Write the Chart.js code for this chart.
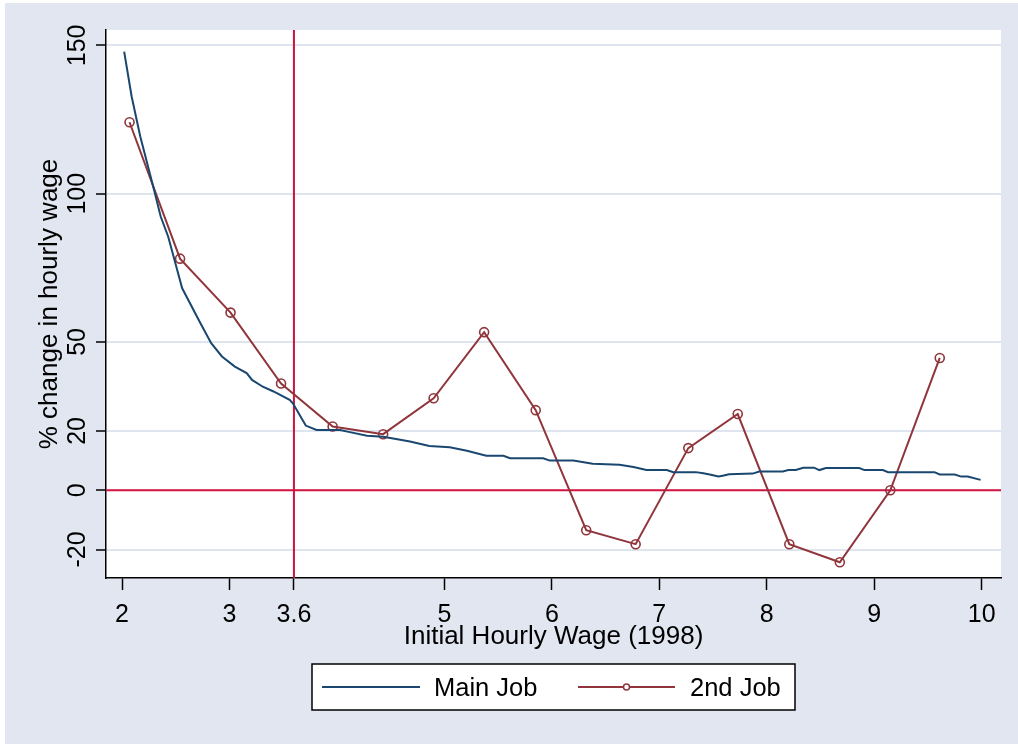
<!DOCTYPE html>
<html>
<head>
<meta charset="utf-8">
<script src="https://cdn.jsdelivr.net/npm/chart.js@4.4.1/dist/chart.umd.min.js"></script>
<style>
  html, body { margin: 0; padding: 0; background: #ffffff; }
  #wrap { width: 1018px; height: 744px; }
</style>
</head>
<body>
<div id="wrap"><canvas id="chart" width="1018" height="744"></canvas></div>
<script>
// Main job: % change in hourly wage by initial hourly wage (1998)
const mainWage = [2.02, 2.09, 2.17, 2.29, 2.36, 2.43, 2.56, 2.73, 2.83, 2.93, 3.05, 3.16, 3.21, 3.31, 3.41, 3.56, 3.59, 3.71, 3.81, 4.03,
  4.12, 4.28, 4.43, 4.55, 4.68, 4.86, 5.05, 5.21, 5.39, 5.55, 5.61, 5.92, 5.98, 6.20, 6.38, 6.63, 6.76, 6.88, 7.07, 7.13,
  7.34, 7.41, 7.48, 7.55, 7.59, 7.65, 7.87, 7.93, 8.15, 8.20, 8.27, 8.34, 8.44, 8.49, 8.55, 8.86, 8.91, 9.08, 9.13, 9.56,
  9.61, 9.75, 9.81, 9.87, 9.99];
const mainChange = [147.9, 132.7, 119.3, 102.4, 92.3, 85.5, 68.1, 56.3, 49.6, 45.1, 41.7, 39.5, 37.2, 34.9, 33.3, 30.5, 29.3, 21.8, 20.3, 20.3,
  19.6, 18.4, 18.0, 17.3, 16.4, 14.9, 14.5, 13.3, 11.6, 11.6, 10.8, 10.8, 10.0, 10.0, 8.9, 8.6, 7.8, 6.8, 6.8, 6.1,
  6.1, 5.7, 5.2, 4.6, 4.9, 5.4, 5.6, 6.3, 6.3, 6.8, 6.8, 7.6, 7.6, 6.8, 7.5, 7.5, 6.8, 6.8, 6.1, 6.1,
  5.3, 5.3, 4.6, 4.6, 3.5];

// Second job: binned averages
const secondWage = [2.07, 2.54, 3.01, 3.48, 3.96, 4.43, 4.90, 5.37, 5.85, 6.32, 6.78, 7.27, 7.73, 8.21, 8.68, 9.15, 9.61];
const secondChange = [124.1, 78.1, 59.9, 36.0, 21.5, 18.9, 31.0, 53.3, 27.0, -13.5, -18.2, 14.2, 25.7, -18.2, -24.3, 0.0, 44.6];

// Axis ticks and reference lines
const xTickValues = [2, 3, 3.6, 5, 6, 7, 8, 9, 10];
const yTickValues = [-20, 0, 20, 50, 100, 150];
const wageCutoff = 3.6;
const zeroChange = 0;

const NAVY = '#1a476f';
const MAROON = '#90353b';
const REFRED = '#cf1240';
const GRID = '#dfe5ef';
const BG = '#e2e6f0';
const FONT = '"Liberation Sans", Arial, Helvetica, sans-serif';

const toPoints = (xs, ys) => xs.map((x, i) => ({ x: x, y: ys[i] }));

// Graph region background and white plot region
const backgroundPlugin = {
  id: 'regions',
  beforeDraw(chart) {
    const { ctx, chartArea: a } = chart;
    ctx.save();
    ctx.fillStyle = '#ffffff';
    ctx.fillRect(0, 0, chart.width, chart.height);
    ctx.fillStyle = BG;
    ctx.fillRect(5, 3, chart.width - 5, chart.height - 3);
    ctx.fillStyle = '#ffffff';
    ctx.fillRect(a.left, a.top, a.right - a.left, a.bottom - a.top);
    ctx.restore();
  }
};

// Reference lines at the wage cutoff and at zero change
const refLinePlugin = {
  id: 'refLines',
  beforeDatasetsDraw(chart) {
    const { ctx, chartArea: a, scales } = chart;
    const px = scales.x.getPixelForValue(wageCutoff);
    const py = scales.y.getPixelForValue(zeroChange);
    ctx.save();
    ctx.strokeStyle = REFRED;
    ctx.lineWidth = 2;
    ctx.beginPath();
    ctx.moveTo(px, a.top);
    ctx.lineTo(px, a.bottom);
    ctx.moveTo(a.left, py);
    ctx.lineTo(a.right, py);
    ctx.stroke();
    ctx.restore();
  }
};

// Boxed legend below the axis title
const boxLegendPlugin = {
  id: 'boxLegend',
  afterDraw(chart) {
    const { ctx } = chart;
    const ds = chart.data.datasets;
    const box = { x: 312, y: 664, w: 483, h: 46 };
    const cy = box.y + box.h / 2;
    ctx.save();
    ctx.fillStyle = '#ffffff';
    ctx.fillRect(box.x, box.y, box.w, box.h);
    ctx.strokeStyle = '#000000';
    ctx.lineWidth = 1.5;
    ctx.strokeRect(box.x, box.y, box.w, box.h);

    const items = [
      { ds: ds[0], x0: 322, x1: 420, tx: 434 },
      { ds: ds[1], x0: 578, x1: 675, tx: 690 }
    ];
    items.forEach(it => {
      ctx.strokeStyle = it.ds.borderColor;
      ctx.lineWidth = 2;
      ctx.beginPath();
      ctx.moveTo(it.x0, cy);
      ctx.lineTo(it.x1, cy);
      ctx.stroke();
      if (it.ds.pointRadius > 0) {
        ctx.beginPath();
        ctx.arc((it.x0 + it.x1) / 2, cy, 3, 0, Math.PI * 2);
        ctx.fillStyle = '#ffffff';
        ctx.fill();
        ctx.lineWidth = 1.5;
        ctx.strokeStyle = it.ds.pointBorderColor;
        ctx.stroke();
      }
      ctx.fillStyle = '#000000';
      ctx.font = '25.5px ' + FONT;
      ctx.textAlign = 'left';
      ctx.textBaseline = 'middle';
      ctx.fillText(it.ds.label, it.tx, cy + 2);
    });
    ctx.restore();
  }
};

new Chart(document.getElementById('chart'), {
  type: 'line',
  data: {
    datasets: [
      {
        label: 'Main Job',
        data: toPoints(mainWage, mainChange),
        borderColor: NAVY,
        borderWidth: 2,
        pointRadius: 0,
        tension: 0,
        fill: false
      },
      {
        label: '2nd Job',
        data: toPoints(secondWage, secondChange),
        borderColor: MAROON,
        borderWidth: 2,
        pointRadius: 4.5,
        pointStyle: 'circle',
        pointBackgroundColor: 'rgba(255,255,255,0)',
        pointBorderColor: MAROON,
        pointBorderWidth: 1.6,
        tension: 0,
        fill: false
      }
    ]
  },
  options: {
    responsive: false,
    devicePixelRatio: 1,
    animation: false,
    layout: { padding: { top: 30, right: 17, bottom: 0, left: 0 } },
    plugins: {
      legend: { display: false },
      tooltip: { enabled: false }
    },
    scales: {
      x: {
        type: 'linear',
        min: 1.851,
        max: 10.18,
        afterFit(scale) { scale.height = 166; },
        afterBuildTicks(scale) { scale.ticks = xTickValues.map(v => ({ value: v })); },
        border: { display: true, color: '#000000', width: 1.5 },
        grid: {
          drawOnChartArea: false,
          drawTicks: true,
          tickLength: 12,
          tickColor: '#000000',
          tickWidth: 1.5
        },
        ticks: {
          color: '#000000',
          font: { family: FONT, size: 25 },
          padding: 10,
          maxRotation: 0,
          minRotation: 0,
          autoSkip: false,
          callback: v => String(v)
        },
        title: {
          display: true,
          text: 'Initial Hourly Wage (1998)',
          color: '#000000',
          font: { family: FONT, size: 26 },
          padding: { top: 0, bottom: 92 }
        }
      },
      y: {
        type: 'linear',
        min: -29.6,
        max: 155.2,
        afterFit(scale) { scale.width = 106; },
        afterBuildTicks(scale) { scale.ticks = yTickValues.map(v => ({ value: v })); },
        border: { display: true, color: '#000000', width: 1.5 },
        grid: {
          drawOnChartArea: true,
          drawTicks: true,
          tickLength: 10,
          tickColor: '#000000',
          tickWidth: 1.5,
          lineWidth: 2,
          color: ctx => (ctx.tick && ctx.tick.value === 0) ? 'rgba(0,0,0,0)' : GRID
        },
        ticks: {
          color: '#000000',
          font: { family: FONT, size: 25 },
          padding: -3,
          minRotation: 90,
          maxRotation: 90,
          crossAlign: 'center',
          autoSkip: false,
          callback: v => String(v)
        },
        title: {
          display: true,
          text: '% change in hourly wage',
          color: '#000000',
          font: { family: FONT, size: 26 },
          padding: { top: 34, bottom: 0 }
        }
      }
    }
  },
  plugins: [backgroundPlugin, refLinePlugin, boxLegendPlugin]
});
</script>
</body>
</html>
